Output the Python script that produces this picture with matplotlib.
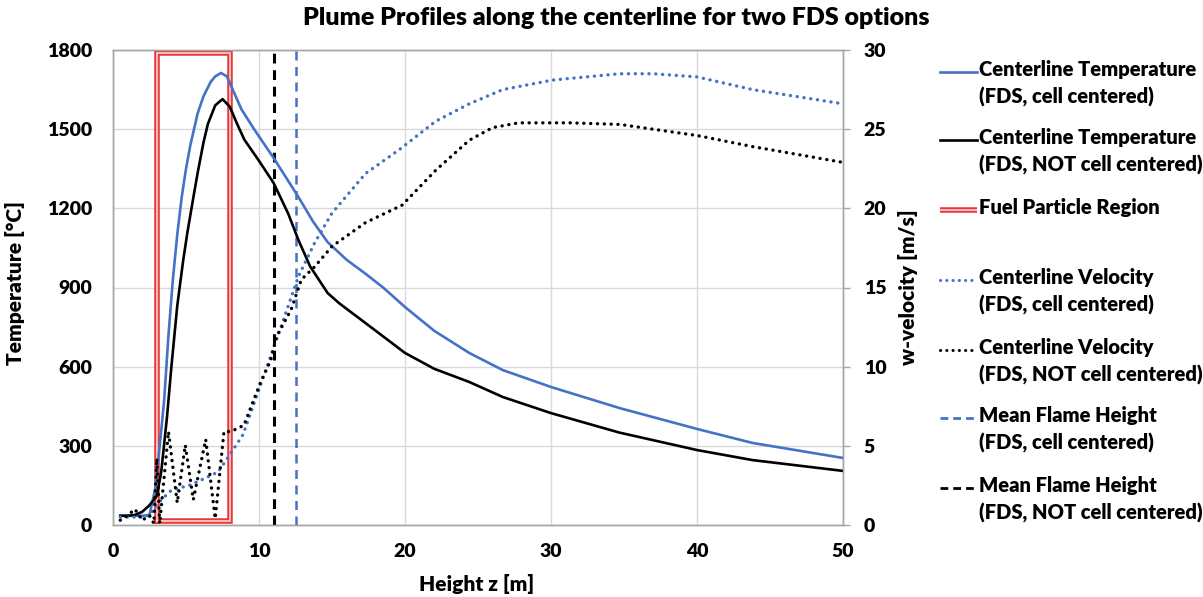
import matplotlib
matplotlib.use("Agg")
import matplotlib.pyplot as plt
from matplotlib.lines import Line2D

plt.rcParams['font.family'] = ['Lato', 'DejaVu Sans']
WEIGHT = 'heavy'
plt.rcParams['font.weight'] = WEIGHT

# ---------------- data ----------------
z_temp_cc = [0.5, 1, 1.5, 2, 2.5, 2.9, 3.2, 3.5, 3.8, 4.1, 4.4, 4.7, 5.0, 5.3, 5.8, 6.2, 6.7, 7.0,
             7.4, 7.8, 8.2, 8.8, 9.7, 11, 12.7, 13.7, 14.7, 16, 17.3, 18.5, 20, 22, 24.4, 26.7, 30,
             34.7, 40, 43.8, 50]
temp_cc = [35, 35, 35, 35, 38, 140, 300, 470, 720, 930, 1100, 1240, 1350, 1440, 1560, 1625, 1680, 1700,
           1713, 1700, 1650, 1575, 1497, 1391, 1243, 1150, 1072, 1005, 952, 900, 826, 736, 652, 587, 523,
           443, 364, 311, 254]

z_temp_ncc = [0.5, 1, 1.5, 2, 2.5, 3.0, 3.3, 3.7, 4.0, 4.4, 4.8, 5.1, 5.5, 5.8, 6.2, 6.5, 7.0, 7.5,
              8.0, 8.5, 9.0, 10, 11, 12, 12.7, 13.5, 14.7, 15.5, 17.3, 20, 22, 24.4, 26.7, 30, 34.7,
              40, 43.8, 50]
temp_ncc = [35, 35, 38, 50, 75, 110, 200, 410, 600, 830, 1000, 1110, 1240, 1335, 1450, 1520, 1590, 1614,
            1585, 1520, 1460, 1380, 1296, 1180, 1080, 980, 879, 840, 765, 652, 592, 542, 485, 424, 350,
            284, 246, 205]

z_vel_cc = [0.5, 1, 1.5, 2, 2.5, 3.1, 4.0, 5.2, 6.3, 7.2, 7.9, 8.9, 10.3, 11.5, 12.7, 13.8, 15,
            17.3, 19.6, 22.1, 24.4, 26.7, 30.1, 34.7, 37, 40, 43.8, 50]
vel_cc = [0.5, 0.5, 0.5, 0.5, 0.6, 1.4, 2.2, 2.5, 2.95, 3.35, 4.3, 5.7, 9.35, 12.5, 15.7, 17.8, 19.7,
          22.2, 23.7, 25.5, 26.6, 27.5, 28.1, 28.5, 28.5, 28.3, 27.5, 26.6]

z_vel_ncc = [0.5, 1.0, 1.5, 2.0, 2.5, 2.8, 3.0, 3.2, 3.8, 4.4, 4.95, 5.5, 6.35, 7.0, 7.6, 8.07,
             8.97, 9.45, 10.1, 10.8, 11.2, 12.2, 12.9, 13.8, 15, 17.3, 19.8, 22.1, 24.4, 26,
             27.8, 31.3, 34.7, 40, 43.8, 50]
vel_ncc = [0.3, 0.6, 1.0, 0.3, 0.6, 0.1, 4.2, 0.1, 5.9, 1.4, 5.05, 1.6, 5.4, 0.4, 5.9, 5.9,
           6.3, 7.45, 9.0, 10.4, 11.9, 13.6, 15.5, 16.3, 17.6, 19.1, 20.2, 22.4, 24.3, 25.1,
           25.4, 25.4, 25.3, 24.6, 23.9, 22.9]

fuel_z = [3.0, 3.0, 8.0, 8.0, 3.0]
fuel_t = [15, 1790, 1790, 15, 15]

flame_height_cc = 12.5
flame_height_ncc = 11.0

x_ticks = [0, 10, 20, 30, 40, 50]
t_ticks = [0, 300, 600, 900, 1200, 1500, 1800]
v_ticks = [0, 5, 10, 15, 20, 25, 30]

title = "Plume Profiles along the centerline for two FDS options"
legend_labels = ["Centerline Temperature\n(FDS, cell centered)",
                 "Centerline Temperature\n(FDS, NOT cell centered)",
                 "Fuel Particle Region",
                 "Centerline Velocity\n(FDS, cell centered)",
                 "Centerline Velocity\n(FDS, NOT cell centered)",
                 "Mean Flame Height\n(FDS, cell centered)",
                 "Mean Flame Height\n(FDS, NOT cell centered)"]

# ---------------- style ----------------
BLUE = "#4472C4"
BLACK = "#000000"
RED = "#E8383B"
GRID = "#D9D9D9"
W, H = 1203, 597

fig = plt.figure(figsize=(W / 100, H / 100), dpi=100)
L, R, B, T = 113, 843, 525, 50
ax = fig.add_axes([L / W, 1 - B / H, (R - L) / W, (B - T) / H])
ax2 = ax.twinx()

ax.set_xlim(0, 50)
ax.set_ylim(0, 1800)
ax2.set_ylim(0, 30)
ax.set_xticks(x_ticks)
ax.set_yticks(t_ticks)
ax2.set_yticks(v_ticks)
ax.grid(True, color=GRID, lw=1.0)
ax.set_axisbelow(True)

for a in (ax, ax2):
    for s in a.spines.values():
        s.set_color("#A6A6A6")
        s.set_linewidth(1.0)

fs_tick = 14
ax.tick_params(axis='x', length=0, pad=13, labelsize=fs_tick)
ax.tick_params(axis='y', length=0, pad=15, labelsize=fs_tick)
ax2.tick_params(axis='y', length=5, width=1, color="#A6A6A6", pad=10, labelsize=fs_tick)
for lab in ax.get_xticklabels() + ax.get_yticklabels() + ax2.get_yticklabels():
    lab.set_fontweight(WEIGHT)

# temperature curves
ax.plot(z_temp_cc, temp_cc, color=BLUE, lw=1.9, zorder=4)
ax.plot(z_temp_ncc, temp_ncc, color=BLACK, lw=1.9, zorder=4)
# fuel region (double line)
ax.plot(fuel_z, fuel_t, color=RED, lw=4.0, zorder=3, solid_joinstyle='miter')
ax.plot(fuel_z, fuel_t, color="#FBD3D3", lw=1.2, zorder=3, solid_joinstyle='miter')
# flame heights
ax.plot([flame_height_ncc, flame_height_ncc], [0, 1800], color=BLACK, lw=2.2,
        linestyle=(0, (3.2, 2.2)), zorder=3)
ax.plot([flame_height_cc, flame_height_cc], [0, 1800], color=BLUE, lw=1.8,
        linestyle=(0, (3.6, 2.6)), zorder=3)
# velocities
ax2.plot(z_vel_cc, vel_cc, color=BLUE, lw=2.4, linestyle=(0, (0.05, 2.0)),
         dash_capstyle='round', zorder=4)
ax2.plot(z_vel_ncc, vel_ncc, color=BLACK, lw=2.4, linestyle=(0, (0.05, 2.0)),
         dash_capstyle='round', zorder=4)

# labels
ax.set_ylabel("Temperature [°C]", fontsize=15, fontweight=WEIGHT)
ax.yaxis.set_label_coords((15 - L) / (R - L), (B - 283) / (B - T))
ax.set_xlabel("Height z [m]", fontsize=15, fontweight=WEIGHT)
ax.xaxis.set_label_coords((477 - L) / (R - L), (B - 584) / (B - T))
ax2.set_ylabel("w-velocity [m/s]", fontsize=15, fontweight=WEIGHT)
ax2.yaxis.set_label_coords((908 - L) / (R - L), (B - 287) / (B - T))
ax.xaxis.label.set_va('center')
ax.yaxis.label.set_va('center')
ax2.yaxis.label.set_va('center')

fig.text(616 / W, 1 - 18 / H, title, ha='center', va='center', fontsize=18, fontweight=WEIGHT)

# legend (manual, outside right)
handles = [
    dict(color=BLUE, lw=1.9, ls='-'),
    dict(color=BLACK, lw=1.9, ls='-'),
    None,
    dict(color=BLUE, lw=2.2, ls=(0, (0.05, 2.0)), dash_capstyle='round'),
    dict(color=BLACK, lw=2.2, ls=(0, (0.05, 2.0)), dash_capstyle='round'),
    dict(color=BLUE, lw=2.0, ls=(0, (2.8, 1.8))),
    dict(color=BLACK, lw=2.0, ls=(0, (2.8, 1.8))),
]
ys = [72, 140, 210, 280, 350, 418, 488]
hx0, hx1, tx = 940, 977, 979
for hdl, lab, yy in zip(handles, legend_labels, ys):
    yf = 1 - yy / H
    if hdl is None:
        fig.add_artist(Line2D([hx0 / W, hx1 / W], [yf, yf], transform=fig.transFigure,
                              color=RED, lw=4.0, solid_capstyle='butt'))
        fig.add_artist(Line2D([hx0 / W, hx1 / W], [yf, yf], transform=fig.transFigure,
                              color="#FBD3D3", lw=1.2, solid_capstyle='butt'))
    else:
        kw = dict(hdl)
        ls = kw.pop('ls')
        fig.add_artist(Line2D([hx0 / W, hx1 / W], [yf, yf], transform=fig.transFigure,
                              linestyle=ls, **kw))
    fig.text(tx / W, yf + 12 / H, lab, ha='left', va='top', fontsize=14.5, fontweight=WEIGHT,
             linespacing=1.45, transform=fig.transFigure)

fig.savefig("out.png", dpi=100)
